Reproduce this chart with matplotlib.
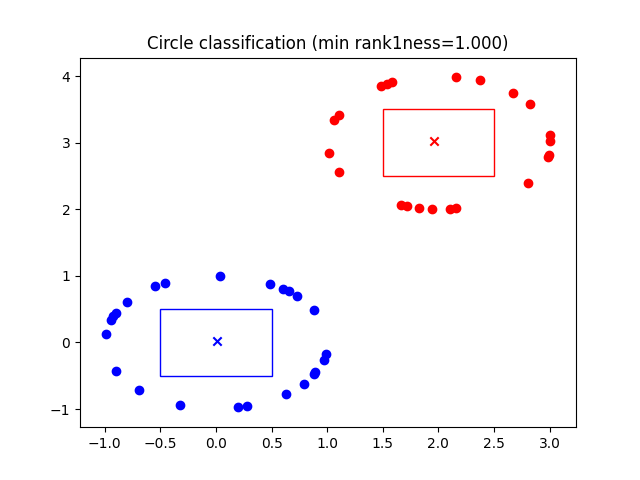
import matplotlib
matplotlib.use("Agg")
import matplotlib.pyplot as plt
from matplotlib.patches import Rectangle

blue_x = [0.039, -0.546, -0.456, -0.803, -0.899, -0.924, -0.944, -0.987, -0.897, -0.690,
          -0.321, 0.198, 0.281, 0.627, 0.789, 0.884, 0.893, 0.974, 0.992, 0.884,
          0.728, 0.659, 0.603, 0.489]
blue_y = [0.998, 0.848, 0.890, 0.604, 0.444, 0.393, 0.338, 0.128, -0.428, -0.717,
          -0.938, -0.968, -0.953, -0.777, -0.627, -0.473, -0.438, -0.267, -0.172, 0.483,
          0.698, 0.769, 0.803, 0.874]

red_x = [1.484, 1.535, 1.585, 2.161, 2.374, 2.674, 2.824, 3.004, 3.004, 2.990,
         2.986, 2.808, 2.158, 2.104, 1.945, 1.828, 1.715, 1.664, 1.109, 1.019,
         1.061, 1.109]
red_y = [3.851, 3.881, 3.911, 3.982, 3.941, 3.746, 3.581, 3.123, 3.030, 2.820,
         2.780, 2.390, 2.026, 2.000, 2.000, 2.014, 2.044, 2.069, 2.560, 2.846,
         3.343, 3.423]

blue_center = (0.009, 0.023)
red_center = (1.960, 3.025)
blue_box = (-0.5, -0.5, 1.0, 1.0)
red_box = (1.5, 2.5, 1.0, 1.0)

fig, ax = plt.subplots(figsize=(6.4, 4.8), dpi=100)
ax.scatter(blue_x, blue_y, color="blue")
ax.scatter(red_x, red_y, color="red")
ax.scatter([blue_center[0]], [blue_center[1]], color="blue", marker="x")
ax.scatter([red_center[0]], [red_center[1]], color="red", marker="x")
ax.add_patch(Rectangle(blue_box[:2], blue_box[2], blue_box[3], fill=False, edgecolor="blue"))
ax.add_patch(Rectangle(red_box[:2], red_box[2], red_box[3], fill=False, edgecolor="red"))
ax.set_xlim(-1.223, 3.237)
ax.set_ylim(-1.272, 4.278)
ax.set_title("Circle classification (min rank1ness=1.000)")
fig.savefig("out.png")
